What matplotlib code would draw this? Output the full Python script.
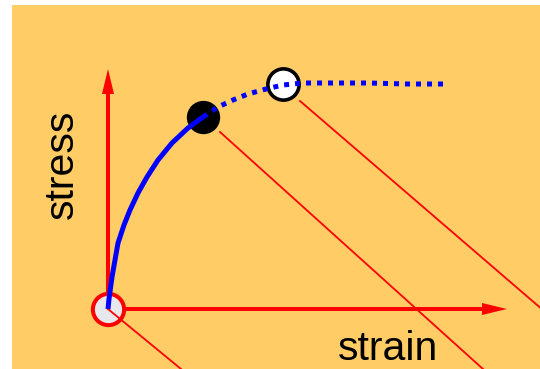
import matplotlib
matplotlib.use("Agg")
import matplotlib.pyplot as plt

# Loading curve (strain, stress) in picture units, origin at the axes corner
strain_solid = [0, 1, 4, 10, 16, 22, 30, 39, 50, 64, 80, 95]
stress_solid = [0, 10, 32, 66, 84, 99, 116, 132, 149, 166, 181, 192]
strain_dotted = [95, 110, 125, 140, 158, 175, 195, 220, 260, 300, 335]
stress_dotted = [192, 202, 209, 215, 220, 224, 226, 226, 226, 225, 225]

# Unloading lines: start and end points
unload_x0 = [0, 112, 192]
unload_y0 = [0, 177, 208]
unload_x1 = [73, 375, 450]
unload_y1 = [-60, -60, -14]

# Marked points
origin_pt = (0, 0)
yield_pt = (95, 192)
peak_pt = (175, 225)

# Axis arrow tips
x_axis_tip = 399
y_axis_tip = 240

xlabel = "strain"
ylabel = "stress"

fig = plt.figure(figsize=(5.4, 3.69), dpi=100)
fig.patch.set_facecolor("white")
ax = fig.add_axes([12 / 540, 0, 528 / 540, 364 / 369])
ax.set_xlim(-96, 432)
ax.set_ylim(-60, 304)
ax.set_facecolor("#FFCC66")
for s in ax.spines.values():
    s.set_visible(False)
ax.set_xticks([])
ax.set_yticks([])

# axis arrows
ax.arrow(0, 0, x_axis_tip, 0, width=4, head_width=12, head_length=25,
         length_includes_head=True, color="red", lw=0, zorder=1)
ax.arrow(0, 0, 0, y_axis_tip, width=4, head_width=12, head_length=25,
         length_includes_head=True, color="red", lw=0, zorder=1)

# markers
ax.plot(*origin_pt, marker="o", ms=22.5, mfc="#E8E8EC", mec="red", mew=2.9,
        zorder=2, clip_on=False)
ax.plot(*yield_pt, marker="o", ms=24, mfc="black", mec="black", mew=0, zorder=2)
ax.plot(*peak_pt, marker="o", ms=22.5, mfc="white", mec="black", mew=2.6, zorder=2)

# unloading lines
for x0, y0, x1, y1 in zip(unload_x0, unload_y0, unload_x1, unload_y1):
    ax.plot([x0, x1], [y0, y1], color="red", lw=1.3, zorder=3)

# loading curve
ax.plot(strain_solid, stress_solid, color="blue", lw=3.6,
        solid_capstyle="butt", solid_joinstyle="round", zorder=4)
ax.plot(strain_dotted, stress_dotted, color="blue", lw=3.6,
        linestyle=(0, (1, 1.2)), dash_capstyle="butt", zorder=4)

font = ["Liberation Sans", "DejaVu Sans"]
ax.text(280, -51, xlabel, fontsize=29.5, family=font, ha="center",
        va="baseline", color="black")
ax.text(-35, 145, ylabel, fontsize=29.5, family=font, ha="center",
        va="baseline", rotation=90, rotation_mode="anchor", color="black")

fig.savefig("out.png", dpi=100, facecolor=fig.get_facecolor())
